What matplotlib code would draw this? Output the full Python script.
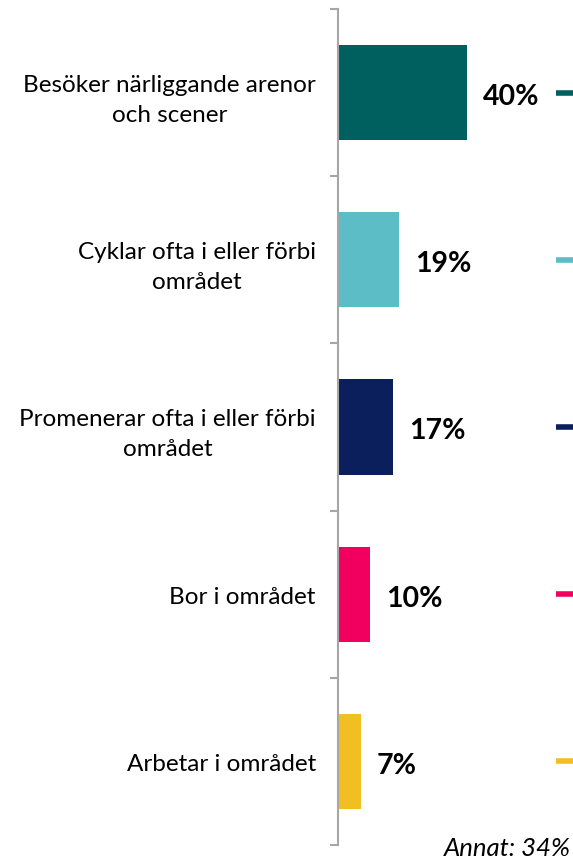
import numpy as np
import matplotlib
matplotlib.use("Agg")
import matplotlib.pyplot as plt

# reasons for visiting the area (share of respondents)
categories = [
    "Besöker närliggande arenor\noch scener",
    "Cyklar ofta i eller förbi\nområdet",
    "Promenerar ofta i eller förbi\nområdet",
    "Bor i området",
    "Arbetar i området",
]
values = [40, 19, 17, 10, 7]
colors = ["#00605F", "#5DBDC6", "#0B1F5C", "#F2005F", "#F2BF22"]
other_label = "Annat: 34%"

plt.rcParams['font.family'] = ['Lato', 'DejaVu Sans']

fig = plt.figure(figsize=(5.73, 8.62), dpi=100)
ax = fig.add_axes([338 / 573, 1 - 846 / 862, 1 - 338 / 573, (846 - 10) / 862])

y = np.arange(len(categories))
ax.barh(y, values, height=0.57, color=colors)
ax.set_ylim(len(categories) - 0.5, -0.5)
ax.set_xlim(0, 73)

# value labels
for yi, v in zip(y, values):
    ax.text(v + 5, yi + 0.02, f"{v}%", va="center", ha="left",
            fontsize=20.5, fontweight="bold", color="black")

# small coloured dashes at right edge
for yi, c in zip(y, colors):
    ax.plot([67.8, 74], [yi, yi], color=c, lw=4, solid_capstyle="butt",
            clip_on=False)

# axis styling
for s in ["top", "right", "bottom"]:
    ax.spines[s].set_visible(False)
ax.spines["left"].set_color("#a6a6a6")
ax.spines["left"].set_linewidth(1.5)
ax.set_xticks([])
ax.set_yticks(y)
ax.set_yticklabels(categories, multialignment="center", fontsize=17.5,
                   linespacing=1.55)
ax.tick_params(axis="y", which="major", length=0, pad=16)
ax.set_yticks(np.arange(len(categories) + 1) - 0.5, minor=True)
ax.tick_params(axis="y", which="minor", length=6, width=1.5, color="#a6a6a6")

fig.text(0.997, 0.002, other_label, ha="right", va="bottom",
         fontsize=18.5, style="italic", color="black")

fig.savefig("out.png", dpi=100)
